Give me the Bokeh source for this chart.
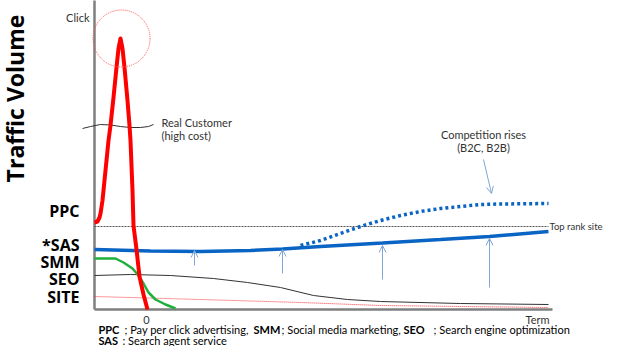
from bokeh.plotting import figure
from bokeh.models import Range1d, Arrow, OpenHead, ColumnDataSource
from bokeh.core.properties import value
from bokeh.embed import file_html
from bokeh.resources import INLINE
import math

# ---------------- data (term on x, traffic volume on y; origin at the axis corner) ----------
ppc_term = [0, 3, 5, 6, 8, 9, 11, 13, 14, 16, 19, 22, 24, 26, 28, 30, 33, 35, 36, 37, 38, 39, 42, 45, 49, 53]
ppc_vol = [87, 88, 92, 96, 109, 119, 139, 159, 169, 184, 212, 242, 261, 271, 261, 242, 209, 184, 169, 144, 119, 84, 60, 33, 15, 0]

sas_term = [0, 56, 106, 156, 188, 226, 288, 346, 395, 454]
sas_vol = [60, 58.5, 58, 59, 60.5, 63, 66.5, 70, 73, 78]

comp_term = [206, 226, 246, 266, 286, 306, 326, 346, 366, 386, 406, 454]
comp_vol = [64, 69, 76, 83, 89, 94, 98, 101, 103, 105, 105.5, 106]

smm_term = [0, 21, 29, 38, 44, 49, 54, 61, 71, 81]
smm_vol = [51, 51, 47, 41, 34, 26, 17, 10, 5, 1]

seo_term = [0, 36, 76, 119, 153, 186, 219, 253, 286, 366, 454]
seo_vol = [34, 35, 34, 31, 27, 22, 14, 10, 8, 6, 5]

site_term = [0, 106, 206, 286, 366, 454]
site_vol = [13, 10, 7, 4, 3, 2]

top_rank_term = [0, 454]
top_rank_vol = [83, 83]

real_cust_term = [-12, -4, 6, 16, 26, 36, 46, 54, 59]
real_cust_vol = [181, 183, 185, 184.5, 183, 182, 182, 183, 185]

arrow_term = [100, 188, 288, 395]
arrow_from = [44, 36, 30, 22]
arrow_to = [59, 60, 64, 71]

series_labels = ["PPC", "*SAS", "SMM", "SEO", "SITE"]
series_label_vol = [99, 65, 48, 31, 13]

footnote_line1 = ["PPC", "; Pay per click advertising,", "SMM", "; Social media marketing,", "SEO", "; Search engine optimization"]
footnote_line2 = ["SAS", ": Search agent service"]

# ---------------- figure ----------------
p = figure(width=605, height=346, x_range=Range1d(-94, 511), y_range=Range1d(-37, 309),
           output_backend="svg", toolbar_location=None, x_axis_type=None, y_axis_type=None,
           min_border=0, min_border_left=0, min_border_right=0, min_border_top=0, min_border_bottom=0)
p.grid.visible = False
p.outline_line_color = None
p.background_fill_color = "white"
p.border_fill_color = "white"

FONT = value("Lato")
TXT = "#333333"
BLUE = "#0a64c4"
ARROW_C = "#7ea6d6"

# axes
p.line([0, 0], [0, 320], line_color="#7f7f7f", line_width=2.5)
p.line([0, 458], [0, 0], line_color="#7f7f7f", line_width=2.5)

# reference lines
p.line(top_rank_term, top_rank_vol, line_color="#555555", line_width=1, line_dash="2 1")
p.line(site_term, site_vol, line_color="#ff3333", line_width=1, line_dash="1 1")
p.line(seo_term, seo_vol, line_color="#333333", line_width=1)

# competition (dotted blue)
p.line(comp_term, comp_vol, line_color=BLUE, line_width=3.5, line_dash="3 3")
# SAS
p.line(sas_term, sas_vol, line_color=BLUE, line_width=3.5)
# SMM
p.line(smm_term, smm_vol, line_color="#1db03c", line_width=2.5)
# real customer wavy marker
p.line(real_cust_term, real_cust_vol, line_color="#333333", line_width=1)
# PPC
p.line(ppc_term, ppc_vol, line_color="#ff0000", line_width=4, line_join="round")

# click circle
p.circle(x=[27], y=[271], radius=28.5, fill_color=None, line_color="#ff5555",
         line_width=1, line_dash="1 1")

# arrows
asrc = ColumnDataSource(dict(x=arrow_term, y0=arrow_from, y1=arrow_to))
p.add_layout(Arrow(x_start="x", y_start="y0", x_end="x", y_end="y1", source=asrc,
                   line_color=ARROW_C, line_width=1,
                   end=OpenHead(size=7, line_color=ARROW_C, line_width=1)))
p.add_layout(Arrow(x_start=389, y_start=150, x_end=397, y_end=116,
                   line_color=ARROW_C, line_width=1,
                   end=OpenHead(size=7, line_color=ARROW_C, line_width=1)))

# series labels
p.text(x=[-15] * len(series_labels), y=series_label_vol, text=series_labels,
       text_font=value("Open Sans"), text_font_style="bold", text_font_size="16px",
       text_color="black", text_align="right", text_baseline="middle")

# y title
p.text(x=[-80], y=[211], text=["Traffic Volume"], angle=math.pi / 2,
       text_font=value("Open Sans"), text_font_style="bold", text_font_size="23px",
       text_color="black", text_align="center", text_baseline="middle")

# annotations
def t(x, y, s, align="left", size="11px"):
    p.text(x=[x], y=[y], text=[s], text_font=FONT, text_font_size=size, text_color=TXT,
           text_align=align, text_baseline="middle")

t(-5, 292, "Click", "right")
t(67, 187, "Real Customer")
t(67, 174, "(high cost)")
t(389, 175, "Competition rises", "center")
t(389, 162, "(B2C, B2B)", "center")
t(455, 83, "Top rank site", size="9.5px")
t(443, -10, "Term", "center")
t(52, -10, "0", "center")

# footnote
x1 = [4, 30, 159, 187, 309, 339]
for s, x in zip(footnote_line1, x1):
    bold = s in ("PPC", "SMM", "SEO")
    p.text(x=[x], y=[-20], text=[s], text_font=FONT, text_font_size="11px",
           text_font_style="bold" if bold else "normal", text_color="black",
           text_align="left", text_baseline="middle")
x2 = [4, 28]
for s, x in zip(footnote_line2, x2):
    bold = s == "SAS"
    p.text(x=[x], y=[-31], text=[s], text_font=FONT, text_font_size="11px",
           text_font_style="bold" if bold else "normal", text_color="black",
           text_align="left", text_baseline="middle")

open("out.html", "w").write(file_html(p, INLINE))
